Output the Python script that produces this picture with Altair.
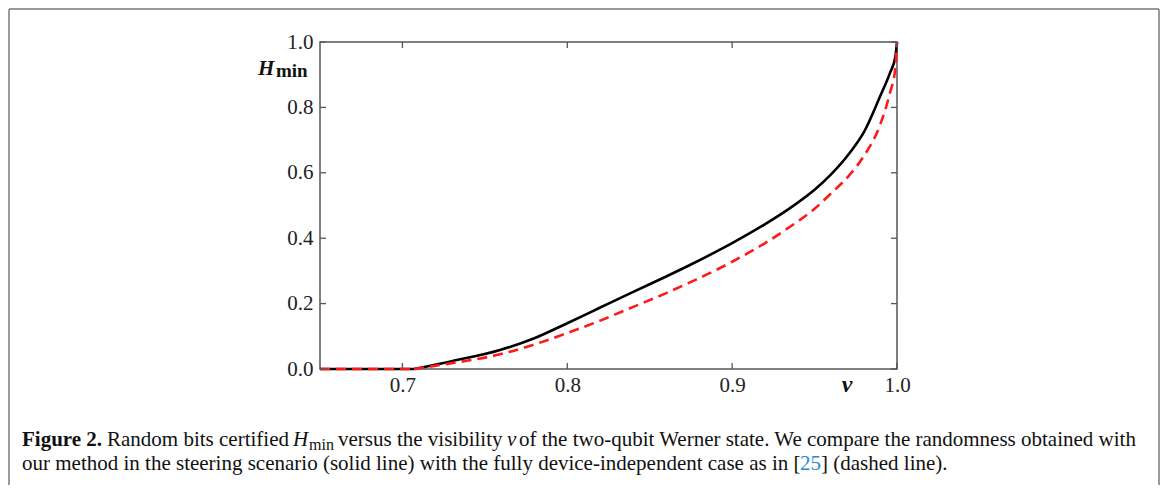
import altair as alt
import pandas as pd

# ---- data ----
v_black = [0.65, 0.7071, 0.73, 0.7592, 0.78, 0.80, 0.82, 0.84, 0.86, 0.8744, 0.89, 0.90,
           0.92, 0.9351, 0.95, 0.96, 0.9715, 0.98, 0.9897, 0.9957, 0.999, 1.0]
h_black = [0.0, 0.0, 0.024, 0.058, 0.094, 0.14, 0.188, 0.236, 0.283, 0.318, 0.358, 0.385,
           0.443, 0.492, 0.548, 0.595, 0.662, 0.725, 0.833, 0.905, 0.955, 1.0]
v_red = [0.65, 0.7071, 0.73, 0.7592, 0.78, 0.80, 0.82, 0.84, 0.86, 0.8744, 0.89, 0.90,
         0.92, 0.9351, 0.95, 0.96, 0.9715, 0.98, 0.9897, 0.9957, 0.999, 1.0]
h_red = [0.0, 0.0, 0.018, 0.045, 0.075, 0.11, 0.148, 0.19, 0.232, 0.265, 0.302, 0.328,
         0.385, 0.435, 0.49, 0.537, 0.595, 0.652, 0.746, 0.844, 0.92, 1.0]
x_ticks = [0.7, 0.8, 0.9, 1.0]
y_ticks = [0.0, 0.2, 0.4, 0.6, 0.8, 1.0]

W, H = 577, 327
SERIF = "Liberation Serif"
AX = "#555555"


def split(vs, hs):
    # flat part (H = 0 up to 1/sqrt 2) and rising part as separate segments
    flat = pd.DataFrame({"v": vs[:2], "H": hs[:2], "seg": "flat"})
    rise = pd.DataFrame({"v": vs[1:], "H": hs[1:], "seg": "rise"})
    return pd.concat([flat, rise], ignore_index=True)


df_b = split(v_black, h_black)
df_r = split(v_red, h_red)
df_xt = pd.DataFrame({"v": x_ticks})
df_yt = pd.DataFrame({"H": y_ticks})
one = pd.DataFrame({"a": [0]})

xs = alt.Scale(domain=[0.65, 1.0], nice=False, zero=False)
ys = alt.Scale(domain=[0, 1], nice=False, zero=False)
x_axis = alt.Axis(values=x_ticks, format=".1f", title=None, ticks=False, domain=False,
                  grid=False, labelFont=SERIF, labelFontSize=21, labelColor="#222",
                  labelPadding=5, labelFlush=False, labelOverlap=False)
y_axis = alt.Axis(values=y_ticks, format=".1f", title=None, ticks=False, domain=False,
                  grid=False, labelFont=SERIF, labelFontSize=21, labelColor="#222",
                  labelPadding=7, labelFlush=False, labelOverlap=False)
X = alt.X("v:Q", scale=xs, axis=x_axis)
Y = alt.Y("H:Q", scale=ys, axis=y_axis)

black = alt.Chart(df_b).mark_line(color="black", strokeWidth=2.6,
                                  interpolate="monotone").encode(x=X, y=Y, detail="seg:N")
red = alt.Chart(df_r).mark_line(color="#ff1a1a", strokeWidth=2.6, interpolate="monotone",
                                strokeDash=[10, 6]).encode(x=X, y=Y, detail="seg:N")

tick_style = dict(color=AX, strokeWidth=1.3)
xt_bottom = alt.Chart(df_xt).mark_rule(**tick_style).encode(
    x=X, y=alt.value(H), y2=alt.value(H - 6))
xt_top = alt.Chart(df_xt).mark_rule(**tick_style).encode(
    x=X, y=alt.value(0), y2=alt.value(6))
yt_left = alt.Chart(df_yt).mark_rule(**tick_style).encode(
    y=Y, x=alt.value(0), x2=alt.value(6))
yt_right = alt.Chart(df_yt).mark_rule(**tick_style).encode(
    y=Y, x=alt.value(W), x2=alt.value(W - 6))


def txt(s, px, py, size=21, weight="normal", style="normal", color="#111", align="left"):
    # px, py are page coordinates; plot origin is at page (320, 42)
    return alt.Chart(one).mark_text(
        text=s, font=SERIF, fontSize=size, fontWeight=weight, fontStyle=style,
        color=color, align=align, baseline="alphabetic"
    ).encode(x=alt.value(px - 320), y=alt.value(py - 42))


labels = [
    txt("H", 258, 75, size=21, weight="bold", style="italic"),
    txt("min", 276, 77, size=19, weight="bold"),
    txt("v", 847, 392, size=24, weight="bold", style="italic", align="center"),
    # caption line 1
    txt("Figure 2.", 22, 446, weight="bold"),
    txt("Random bits certified", 107, 446),
    txt("H", 293, 446, style="italic"),
    txt("min", 309, 450, size=16),
    txt("versus the visibility", 338, 446),
    txt("v", 507, 446, style="italic"),
    txt("of the two-qubit Werner state. We compare the randomness obtained with", 519, 446),
    # caption line 2
    txt("our method in the steering scenario (solid line) with the fully device-independent case as in [", 22, 470),
    txt("25", 800, 470, color="#2b8ac6"),
    txt("] (dashed line).", 821, 470),
]

border_style = dict(color="#9a9a9a", strokeWidth=2)
borders = [
    alt.Chart(one).mark_rule(**border_style).encode(
        x=alt.value(9 - 320), x2=alt.value(9 - 320), y=alt.value(-33), y2=alt.value(H + 116)),
    alt.Chart(one).mark_rule(**border_style).encode(
        x=alt.value(9 - 320), x2=alt.value(1159 - 320), y=alt.value(-33), y2=alt.value(-33)),
    alt.Chart(one).mark_rule(**border_style).encode(
        x=alt.value(1159 - 320), x2=alt.value(1159 - 320), y=alt.value(-33), y2=alt.value(H + 116)),
]

chart = alt.layer(
    black, red, xt_bottom, xt_top, yt_left, yt_right, *labels, *borders
).properties(
    width=W, height=H,
    autosize=alt.AutoSizeParams(type="none"),
    padding={"left": 312, "top": 34, "right": 263, "bottom": 116},
    background="white",
).configure_view(stroke=AX, strokeWidth=1.5).configure_axis(
    labelFont=SERIF, labelFontSize=21, labelColor="#222")

chart.save("out.html", embed_options={"renderer": "svg", "actions": False})
